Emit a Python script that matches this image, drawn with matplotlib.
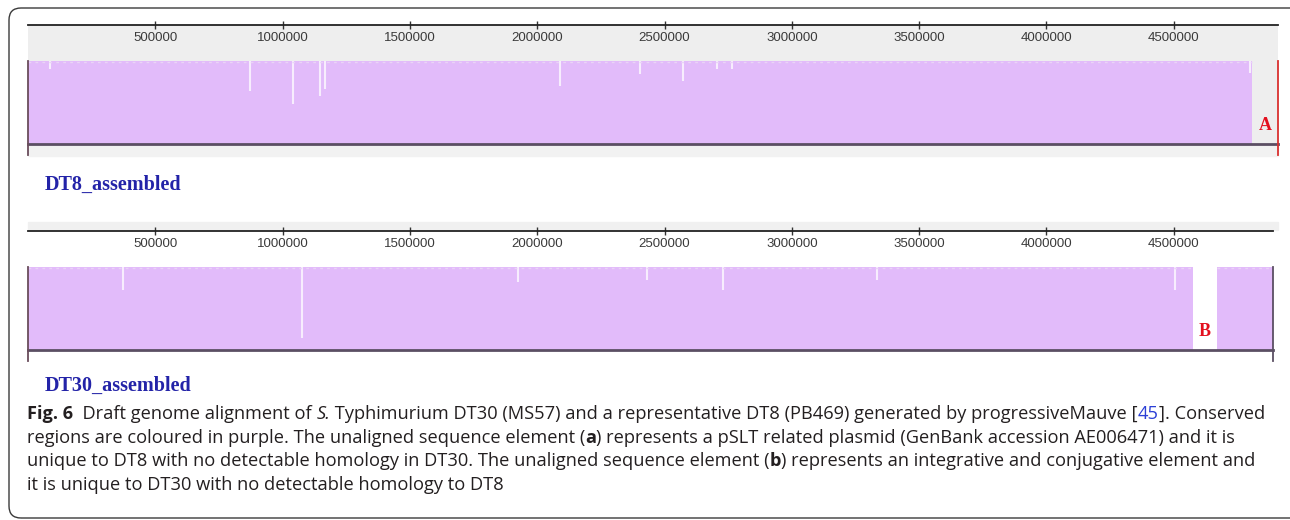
import matplotlib
matplotlib.use("Agg")
import matplotlib.pyplot as plt
from matplotlib import font_manager
from matplotlib.patches import Rectangle, FancyBboxPatch
from matplotlib.transforms import IdentityTransform

# genome lengths and aligned (conserved) blocks, in bp
dt8_length = 4910000
dt8_blocks = [(0, 4808000)]
dt8_notch_pos = [86000, 872000, 1041000, 1147000, 1166000, 2090000,
                 2404000, 2573000, 2706000, 2765000, 4800000]
dt8_notch_depth = [0.10, 0.36, 0.52, 0.42, 0.34, 0.30, 0.16, 0.24, 0.10, 0.10, 0.15]

dt30_length = 4890000
dt30_blocks = [(0, 4576000), (4670000, 4890000)]
dt30_notch_pos = [373000, 1076000, 1925000, 2431000, 2730000, 3335000, 4505000]
dt30_notch_depth = [0.28, 0.85, 0.18, 0.16, 0.28, 0.16, 0.28]

tick_pos = [500000, 1000000, 1500000, 2000000, 2500000,
            3000000, 3500000, 4000000, 4500000]
tick_labels = [str(t) for t in tick_pos]

track_names = ["DT8_assembled", "DT30_assembled"]
gap_tags = ["A", "B"]

caption = [
    [("Fig. 6", "bold", "normal", "#231f20"),
     ("  Draft genome alignment of ", "normal", "normal", "#231f20"),
     ("S.", "normal", "italic", "#231f20"),
     (" Typhimurium DT30 (MS57) and a representative DT8 (PB469) generated by progressiveMauve [", "normal", "normal", "#231f20"),
     ("45", "normal", "normal", "#2b3fd6"),
     ("]. Conserved", "normal", "normal", "#231f20")],
    [("regions are coloured in purple. The unaligned sequence element (", "normal", "normal", "#231f20"),
     ("a", "bold", "normal", "#231f20"),
     (") represents a pSLT related plasmid (GenBank accession AE006471) and it is", "normal", "normal", "#231f20")],
    [("unique to DT8 with no detectable homology in DT30. The unaligned sequence element (", "normal", "normal", "#231f20"),
     ("b", "bold", "normal", "#231f20"),
     (") represents an integrative and conjugative element and", "normal", "normal", "#231f20")],
    [("it is unique to DT30 with no detectable homology to DT8", "normal", "normal", "#231f20")],
]

W, H = 1290, 520
PX_PER_BP = 127.3 / 500000
X0 = 28
purple = "#e2bbfa"

installed = {f.name for f in font_manager.fontManager.ttflist}
tick_font, tick_size = "Liberation Sans", 9.5
for name, size in [("Liberation Sans Narrow", 10.5), ("DejaVu Sans Condensed", 9.5)]:
    if name in installed:
        tick_font, tick_size = name, size
        break

fig = plt.figure(figsize=(W / 100, H / 100), dpi=100)


def box(x0, y0, x1, y1):
    return [x0 / W, 1 - y1 / H, (x1 - x0) / W, (y1 - y0) / H]


def draw_track(ax, length, blocks, npos, ndepth, tag, edge_color, band):
    ax.set_xlim(0, length)
    ax.set_ylim(0, 1.43)
    ax.set_facecolor(band)
    ax.broken_barh([(s, e - s) for s, e in blocks], (0, 1), facecolors=purple, zorder=2)
    ax.vlines(npos, [1 - d for d in ndepth], 1, colors="white", lw=1.5, alpha=0.75, zorder=3)
    ax.hlines([0.985] * len(blocks), [s for s, e in blocks], [e for s, e in blocks],
              colors="#ead3f7", lw=1, linestyles=(0, (2, 3)), zorder=3)
    for side in ["left", "right"]:
        ax.spines[side].set_visible(False)
    ax.spines["top"].set_color("#222222")
    ax.spines["top"].set_linewidth(1.3)
    ax.spines["bottom"].set_color("#5b4f63")
    ax.spines["bottom"].set_linewidth(2)
    ax.set_yticks([])
    ax.set_xticks(tick_pos)
    ax.set_xticklabels(tick_labels, fontfamily=tick_font, fontsize=tick_size, color="#3a3a3a")
    ax.tick_params(axis="x", top=True, bottom=False, labeltop=True, labelbottom=False,
                   direction="inout", length=6, width=1, color="#333333", pad=-17)
    ax.plot([0, 0], [1, -0.13], color="#6a4d5c", lw=1.3, clip_on=False, zorder=4)
    ax.plot([length, length], [1, -0.13], color=edge_color, lw=1.3, clip_on=False, zorder=4)
    # unaligned stretches between blocks get the letter tag
    ends = [e for s, e in blocks]
    starts = [s for s, e in blocks][1:] + [length]
    for e, s in zip(ends, starts):
        if s - e > 0:
            ax.text((e + s) / 2, 0.22, tag, ha="center", va="center", color="#e3101e",
                    fontfamily="Liberation Serif", fontweight="bold", fontsize=13, zorder=5)


# light shading strips round the tracks
fig.add_artist(Rectangle((X0 / W, 1 - 156 / H), 1250 / W, 11 / H,
                         transform=fig.transFigure, color="#f2f2f2", zorder=0))
fig.add_artist(Rectangle((X0 / W, 1 - 230 / H), 1250 / W, 8 / H,
                         transform=fig.transFigure, color="#f0f0f0", zorder=0))

w8 = dt8_length * PX_PER_BP
ax1 = fig.add_axes(box(X0, 25, X0 + w8, 144))
draw_track(ax1, dt8_length, dt8_blocks, dt8_notch_pos, dt8_notch_depth,
           gap_tags[0], "#d9302f", "#eeeeee")

w30 = dt30_length * PX_PER_BP
ax2 = fig.add_axes(box(X0, 231, X0 + w30, 350))
draw_track(ax2, dt30_length, dt30_blocks, dt30_notch_pos, dt30_notch_depth,
           gap_tags[1], "#5b4f63", "white")

for name, y in zip(track_names, [185, 386]):
    fig.text(45 / W, 1 - y / H, name, ha="left", va="center", color="#2323a8",
             fontfamily="Liberation Serif", fontweight="bold", fontsize=14.5)

# outer frame with rounded corners
fig.add_artist(FancyBboxPatch((9, 2), 1295, 510, boxstyle="round,pad=0,rounding_size=12",
                              transform=IdentityTransform(), fill=False,
                              edgecolor="#3a3a3a", lw=1, zorder=10))

# caption, drawn run by run so bold/italic/colour can change mid-line
renderer = fig.canvas.get_renderer()


def run_width(s, size, weight, style):
    t = fig.text(0, 0, "|" + s + "|", fontfamily="Open Sans", fontsize=size,
                 fontweight=weight, fontstyle=style)
    w = t.get_window_extent(renderer).width
    t.remove()
    t = fig.text(0, 0, "||", fontfamily="Open Sans", fontsize=size,
                 fontweight=weight, fontstyle=style)
    w -= t.get_window_extent(renderer).width
    t.remove()
    return w


base = 11.5
line1 = sum(run_width(s, base, wt, st) for s, wt, st, c in caption[0])
cap_size = base * (1270 - 27) / line1

for line, y in zip(caption, [419, 443, 466.5, 490]):
    x = 27
    for s, wt, st, c in line:
        fig.text(x / W, 1 - y / H, s, ha="left", va="baseline", color=c,
                 fontfamily="Open Sans", fontsize=cap_size, fontweight=wt, fontstyle=st)
        x += run_width(s, cap_size, wt, st)

fig.savefig("out.png", dpi=100)
